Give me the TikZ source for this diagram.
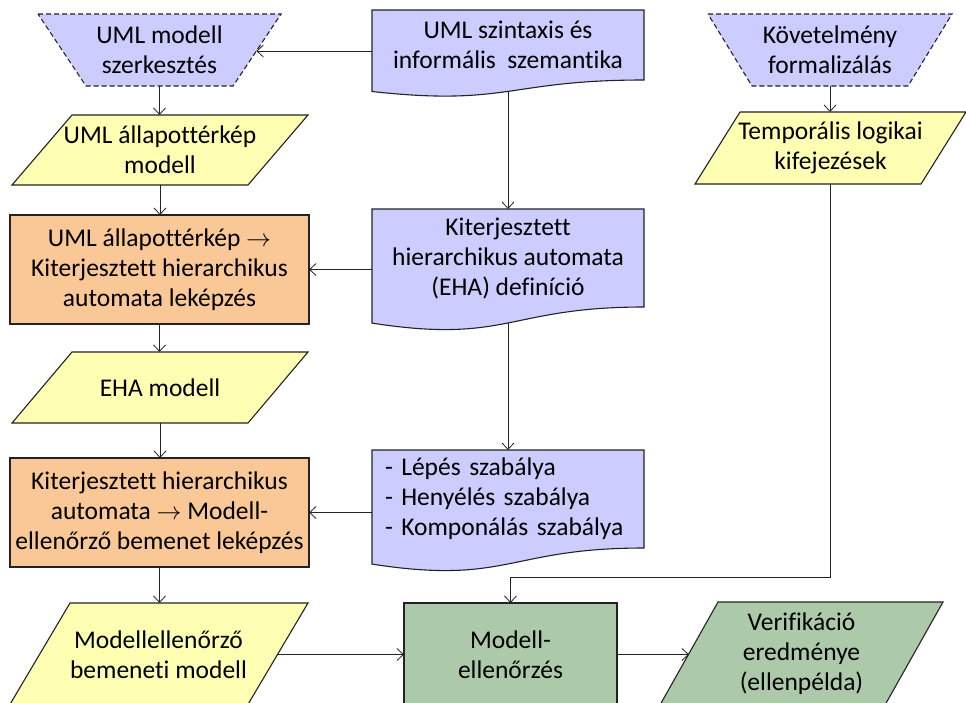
\documentclass[tikz,border=0pt]{standalone}
\usepackage{fontspec}
\setmainfont{Carlito}[Ligatures=NoCommon]
\usetikzlibrary{arrows.meta,calc,backgrounds}

\definecolor{lavender}{RGB}{204,204,255}
\definecolor{paleyellow}{RGB}{255,255,179}
\definecolor{peach}{RGB}{250,200,150}
\definecolor{sage}{RGB}{172,202,170}
\definecolor{ink}{RGB}{35,35,35}

\begin{document}
\begin{tikzpicture}[x=1pt,y=-1pt,
  area/.style={inner sep=0pt, outer sep=0pt, align=center, font=\fontsize{25.5}{30}\selectfont},
  outline/.style={draw=ink, line width=1.1pt, line join=miter},
  dashedline/.style={outline, dash pattern=on 5pt off 3pt},
  procbox/.style={area, draw=ink, line width=1.1pt, rectangle},
  conn/.style={draw=ink, line width=0.8pt, -{Straight Barb[length=6.5pt,width=12pt]}},
]
\useasboundingbox (0,0) rectangle (966,702);
\begin{scope}
\clip (0,0) rectangle (966,702);

% top row
\node[area, minimum width=243pt, minimum height=72pt] (edit) at (159.5,50) {UML modell\\szerkesztés};
\node[area, minimum width=272pt, minimum height=70pt] (syn) at (508,45) {UML szintaxis és\\informális\ \ szemantika};
\node[area, minimum width=244pt, minimum height=72pt] (kovet) at (830,50) {Követelmény\\formalizálás};

% models and transformations
\node[area, minimum width=296pt, minimum height=70pt] (umlsc) at (160,150) {UML állapottérkép\\modell};
\node[area, minimum width=271pt, minimum height=72pt] (temporal) at (830.5,148) {Temporális logikai\\kifejezések};
\node[procbox, fill=peach, minimum width=299pt, minimum height=109pt] (map1) at (159.5,269.5)
  {UML állapottérkép $\rightarrow$\\Kiterjesztett hierarchikus\\automata leképzés};
\node[area, minimum width=272pt, minimum height=98pt] (def) at (508,258)
  {Kiterjesztett\\hierarchikus automata\\(EHA) definíció};
\node[area, minimum width=296pt, minimum height=71pt] (eha) at (160,387.5) {EHA modell};
\node[procbox, fill=peach, minimum width=299pt, minimum height=109pt] (map2) at (159.5,512.5)
  {Kiterjesztett hierarchikus\\automata $\rightarrow$ Modell-\\ellenőrző bemenet leképzés};
\node[area, align=left, text width=246pt, inner xsep=13pt, minimum height=98pt] (rules) at (508,499)
  {- Lépés szabálya\\- Henyélés szabálya\\- Komponálás szabálya};

% bottom row
\node[area, minimum width=299pt, minimum height=103pt] (mcin) at (158.5,654.5) {Modellellenőrző\\bemeneti modell};
\node[procbox, fill=sage, minimum width=213pt, minimum height=103pt] (mc) at (510.5,654.5) {Modell-\\ellenőrzés};
\node[area, minimum width=283pt, minimum height=103pt] (verif) at (801.5,653.5) {Verifikáció\\eredménye\\(ellenpélda)};

% shape outlines behind the texts
\begin{scope}[on background layer]
  \clip (0,0) rectangle (966,702);
  % manual operations (dashed trapezia)
  \draw[dashedline, fill=lavender] (edit.north west) -- (edit.north east)
    -- ($(edit.south east)+(-48,0)$) coordinate (editSE) -- ($(edit.south west)+(48,0)$) -- cycle;
  \draw[dashedline, fill=lavender] (kovet.north west) -- (kovet.north east)
    -- ($(kovet.south east)+(-44,0)$) -- ($(kovet.south west)+(44,0)$) -- cycle;
  % documents with wavy bottom
  \draw[outline, fill=lavender] (syn.north west) -- (syn.north east) -- (syn.south east)
    .. controls (syn.south) and ($(syn.south)+(0,26.5)$) .. ($(syn.south west)+(0,11.5)$) -- cycle;
  \draw[outline, fill=lavender] (def.north west) -- (def.north east) -- (def.south east)
    .. controls (def.south) and ($(def.south)+(0,37.2)$) .. ($(def.south west)+(0,16.1)$) -- cycle;
  \draw[outline, fill=lavender] (rules.north west) -- (rules.north east) -- (rules.south east)
    .. controls (rules.south) and ($(rules.south)+(0,37.2)$) .. ($(rules.south west)+(0,16.1)$) -- cycle;
  % data (parallelograms)
  \draw[outline, fill=paleyellow] ($(umlsc.north west)+(60,0)$) -- (umlsc.north east)
    -- ($(umlsc.south east)+(-60,0)$) -- (umlsc.south west) -- cycle;
  \draw[outline, fill=paleyellow] ($(temporal.north west)+(45,0)$) -- (temporal.north east)
    -- ($(temporal.south east)+(-45,0)$) -- (temporal.south west) -- cycle;
  \draw[outline, fill=paleyellow] ($(eha.north west)+(60,0)$) -- (eha.north east)
    -- ($(eha.south east)+(-60,0)$) -- (eha.south west) -- cycle;
  \draw[outline, fill=paleyellow] ($(mcin.north west)+(61,0)$) -- (mcin.north east)
    -- ($(mcin.south east)+(-61,0)$) coordinate (mcinSE) -- (mcin.south west) -- cycle;
  \draw[outline, fill=sage] ($(verif.north west)+(58,0)$) coordinate (verifNW) -- (verif.north east)
    -- ($(verif.south east)+(-58,0)$) -- (verif.south west) -- cycle;
\end{scope}

% points where connectors meet slanted or wavy edges
\coordinate (editR) at ($(edit.north east)!0.514!(editSE)$);
\coordinate (synB) at ($(syn.south)+(0,11.4)$);
\coordinate (defB) at ($(def.south)+(0,16)$);
\coordinate (mcinR) at ($(mcin.north east)!0.5!(mcinSE)$);
\coordinate (verifL) at ($(verifNW)!0.5!(verif.south west)$);

% connectors
\draw[conn] (syn.west |- editR) -- (editR);
\draw[conn] (edit.south) -- (edit.south |- umlsc.north);
\draw[conn] (umlsc.south) -- (umlsc.south |- map1.north);
\draw[conn] (map1.south) -- (map1.south |- eha.north);
\draw[conn] (eha.south) -- (eha.south |- map2.north);
\draw[conn] (map2.south) -- (map2.south |- mcin.north);
\draw[conn] (synB) -- (synB |- def.north);
\draw[conn] (defB) -- (defB |- rules.north);
\draw[conn] (map1.east -| def.west) -- (map1.east);
\draw[conn] (map2.east -| rules.west) -- (map2.east);
\draw[conn] (kovet.south) -- (kovet.south |- temporal.north);
\draw[conn] (temporal.south) |- ($(mc.north)+(0,-26)$) -- (mc.north);
\draw[conn] (mcinR) -- (mcinR -| mc.west);
\draw[conn] (mc.east) -- (mc.east -| verifL);
\end{scope}
\end{tikzpicture}
\end{document}
